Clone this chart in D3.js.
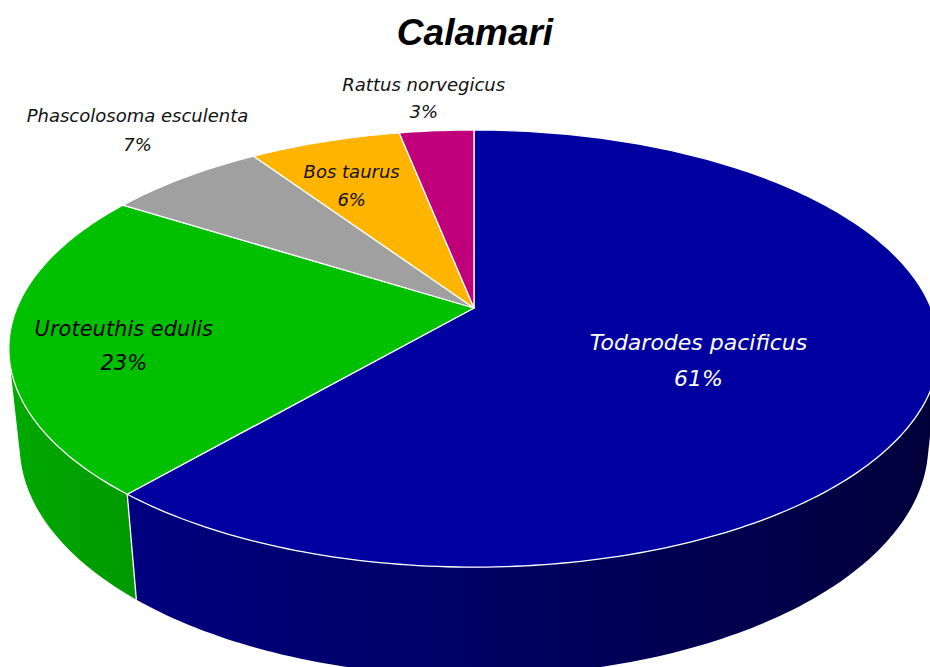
<!DOCTYPE html>
<html>
<head>
<meta charset="utf-8">
<script src="https://cdn.jsdelivr.net/npm/d3@7"></script>
<style>
  body { margin: 0; background: #fff; }
  svg { display: block; }
</style>
</head>
<body>
<div id="chart"></div>
<script>
// Data
const names = ["Todarodes pacificus", "Uroteuthis edulis", "Phascolosoma esculenta", "Bos taurus", "Rattus norvegicus"]
const values = [61.3, 22.7, 6.6, 6.3, 3.1]
const colors = ["#0000a0", "#00c000", "#a0a0a0", "#ffb400", "#c0007a"]
const title = "Calamari"

// label placement (radius on the pie + nudge), kept apart from the data
const labelLayout = [
  { r: 0.5, dx: 3, dy: 14, size: 22, lh: 36, fill: "#ffffff" },
  { r: 0.75, dx: -4, dy: 14, size: 21, lh: 34, fill: "#000000" },
  { r: 1.42, dx: 56, dy: -1, size: 18, lh: 29, fill: "#111111" },
  { r: 0.7, dx: -13, dy: 0, size: 18, lh: 28, fill: "#111111" },
  { r: 1.22, dx: -6, dy: -1, size: 18, lh: 27, fill: "#111111" },
]

const width = 930, height = 667

// simple pinhole camera looking down at the pie
const cam = { cx: 474, cy: 308, f: 2185, d: 4.78, sinA: 0.4617, cosA: 0.887, h: 0.24 }

function proj(a, r, z) {
  const x = r * Math.sin(a)
  const y = -r * Math.cos(a)
  const hz = z * cam.h
  const depth = cam.d - y * cam.cosA + hz * cam.sinA
  return [cam.cx + cam.f * x / depth, cam.cy + cam.f * (y * cam.sinA + hz * cam.cosA) / depth]
}

const svg = d3.select("#chart")
  .append("svg")
  .attr("width", width)
  .attr("height", height)

const defs = svg.append("defs")

const rows = names.map((n, i) => ({ name: n, value: values[i], color: colors[i], i }))
const total = d3.sum(values)
const pct = d3.format(".0%")

const arcs = d3.pie()
  .sort(null)
  .value(d => d.value)(rows)

const line = d3.line()
const step = Math.PI / 180

// part of the wall that faces the camera
const edge = Math.acos(-1 / (cam.d * cam.cosA))
const visLo = edge, visHi = 2 * Math.PI - edge
const shade = (c, a) => {
  const k = 0.62 - 0.28 * Math.sin(a)
  const col = d3.rgb(c)
  return d3.rgb(col.r * k, col.g * k, col.b * k).formatHex()
}

const walls = svg.append("g")
arcs.forEach((p, idx) => {
  const a0 = Math.max(p.startAngle, visLo)
  const a1 = Math.min(p.endAngle, visHi)
  if (a1 <= a0) return
  const n = Math.max(2, Math.ceil((a1 - a0) / step))
  const top = d3.range(n + 1).map(s => proj(a0 + (a1 - a0) * s / n, 1, 0))
  const bot = d3.range(n + 1).map(s => proj(a0 + (a1 - a0) * s / n, 1, 1)).reverse()

  const x1 = proj(a0, 1, 0)[0], x2 = proj(a1, 1, 0)[0]
  const g = defs.append("linearGradient")
    .attr("id", "wall" + idx)
    .attr("gradientUnits", "userSpaceOnUse")
    .attr("x1", x1).attr("x2", x2).attr("y1", 0).attr("y2", 0)
  const m = 12
  d3.range(m + 1).forEach(s => {
    const a = a0 + (a1 - a0) * s / m
    g.append("stop")
      .attr("offset", (proj(a, 1, 0)[0] - x1) / (x2 - x1))
      .attr("stop-color", shade(p.data.color, a))
  })

  walls.append("path")
    .attr("d", line(top.concat(bot)) + "Z")
    .attr("fill", "url(#wall" + idx + ")")
})

// white edge where slices meet on the wall
arcs.forEach(p => {
  if (p.endAngle > visLo && p.endAngle < visHi) {
    walls.append("path")
      .attr("d", line([proj(p.endAngle, 1, 0), proj(p.endAngle, 1, 1)]))
      .attr("stroke", "#ffffff")
      .attr("stroke-width", 1.3)
  }
})

// top faces
svg.append("g")
  .selectAll("path")
  .data(arcs)
  .join("path")
  .attr("d", p => {
    const pts = [proj(0, 0, 0)]
    const n = Math.max(2, Math.ceil((p.endAngle - p.startAngle) / step))
    for (let s = 0; s <= n; s++) {
      pts.push(proj(p.startAngle + (p.endAngle - p.startAngle) * s / n, 1, 0))
    }
    return line(pts) + "Z"
  })
  .attr("fill", p => p.data.color)
  .attr("stroke", "#ffffff")
  .attr("stroke-width", 1.3)
  .attr("stroke-linejoin", "round")

// labels
const labels = svg.append("g")
  .attr("font-family", "'Comic Sans MS', 'DejaVu Sans', sans-serif")
  .attr("font-style", "italic")
  .attr("text-anchor", "middle")

arcs.forEach(p => {
  const L = labelLayout[p.data.i]
  const mid = (p.startAngle + p.endAngle) / 2
  const [x, y] = proj(mid, L.r, 0)
  const t = labels.append("text")
    .attr("font-size", L.size)
    .attr("fill", L.fill)
  t.append("tspan")
    .attr("x", x + L.dx)
    .attr("y", y + L.dy - L.lh / 2)
    .attr("dy", "0.35em")
    .text(p.data.name)
  t.append("tspan")
    .attr("x", x + L.dx)
    .attr("y", y + L.dy + L.lh / 2)
    .attr("dy", "0.35em")
    .text(pct(p.data.value / total))
})

// title
svg.append("text")
  .attr("x", 475)
  .attr("y", 45)
  .attr("text-anchor", "middle")
  .attr("font-family", "'Liberation Sans', Arial, sans-serif")
  .attr("font-weight", "bold")
  .attr("font-style", "italic")
  .attr("font-size", 37)
  .attr("fill", "#000")
  .text(title)
</script>
</body>
</html>
